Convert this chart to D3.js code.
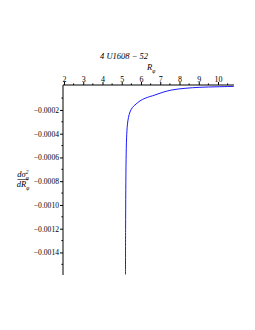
<!DOCTYPE html>
<html>
<head>
<meta charset="utf-8">
<script src="https://cdn.jsdelivr.net/npm/d3@7"></script>
<style>
  body { margin: 0; background: #fff; }
  svg { display: block; }
  text { font-family: "Liberation Serif", "DejaVu Serif", serif; fill: #000; }
</style>
</head>
<body>
<svg id="chart"></svg>
<script>
// values
const title = '4 U1608 \u2212 52';
const xTicks = [2, 3, 4, 5, 6, 7, 8, 9, 10];
const xMinorTicks = [2.5, 3.5, 4.5, 5.5, 6.5, 7.5, 8.5, 9.5, 10.5];
const yTicks = [-0.0002, -0.0004, -0.0006, -0.0008, -0.0010, -0.0012, -0.0014];
const yMinorTicks = [-0.0001, -0.0003, -0.0005, -0.0007, -0.0009, -0.0011, -0.0013, -0.0015];
const curveR = [5.195, 5.2, 5.211, 5.226, 5.252, 5.294, 5.351, 5.429, 5.558, 5.688,
  5.948, 6.207, 6.727, 7.142, 7.594, 8.285, 9.06, 9.946, 10.829];
const curveD = [-0.001586, -0.001208, -0.000872, -0.00062, -0.000435, -0.000326, -0.000263,
  -0.000217, -0.000179, -0.000158, -0.000124, -0.000102, -0.000074, -0.000051, -0.000032,
  -0.000018, -0.0000093, -0.0000051, -0.0000018];

const width = 255;
const height = 330;
const svg = d3.select('#chart').attr('width', width).attr('height', height);

const x = d3.scaleLinear().domain([1.95, 10.83]).range([63, 234]);
const y = d3.scaleLinear().domain([-0.00159, 0.00001]).range([275, 85]);

const fmtY = d => d3.format('.4f')(d).replace('-', '\u2212');

// x axis along the top (y = 0 line), ticks point up
const xAxis = svg.append('g').attr('transform', `translate(0, ${y(0.00001)})`);
xAxis.call(d3.axisTop(x).tickValues(xTicks).tickSize(3).tickPadding(0).tickFormat(d3.format('d')))
  .call(g => g.select('.domain').attr('d', `M${x.range()[0]},0H${x.range()[1]}`));
xAxis.selectAll('text').style('font-size', '8px').attr('font-family', null);
xAxis.append('g').selectAll('line')
  .data(xMinorTicks)
  .enter().append('line')
  .attr('x1', d => x(d)).attr('x2', d => x(d))
  .attr('y1', 0).attr('y2', -1.6)
  .attr('stroke', '#000');

// y axis
const yAxis = svg.append('g').attr('transform', `translate(${x(1.95)}, 0)`);
yAxis.call(d3.axisLeft(y).tickValues(yTicks).tickSize(3).tickPadding(1).tickFormat(fmtY))
  .call(g => g.select('.domain').attr('d', `M0,${y.range()[1]}V${y.range()[0]}`));
yAxis.selectAll('text').style('font-size', '7.6px').attr('font-family', null);
yAxis.append('g').selectAll('line')
  .data(yMinorTicks)
  .enter().append('line')
  .attr('x1', 0).attr('x2', -1.6)
  .attr('y1', d => y(d)).attr('y2', d => y(d))
  .attr('stroke', '#000');

// curve
const line = d3.line()
  .x((d, i) => x(curveR[i]))
  .y(d => y(d))
  .curve(d3.curveCatmullRom.alpha(0.5));

svg.append('path')
  .datum(curveD)
  .attr('d', line)
  .attr('fill', 'none')
  .attr('stroke', '#1a1aff')
  .attr('stroke-width', 1);

// title and axis labels
svg.append('text')
  .attr('x', 124)
  .attr('y', 59)
  .attr('text-anchor', 'middle')
  .attr('font-style', 'italic')
  .attr('font-size', 8.5)
  .text(title);

const rLabel = svg.append('text')
  .attr('x', 147)
  .attr('y', 70)
  .attr('font-style', 'italic')
  .attr('font-size', 8.5);
rLabel.append('tspan').text('R');
rLabel.append('tspan').attr('dy', 2.5).attr('font-size', 5.5).text('\u03c6');

const yl = svg.append('g').attr('transform', 'translate(23, 0)');
const num = yl.append('text')
  .attr('y', 177)
  .attr('text-anchor', 'middle')
  .attr('font-style', 'italic')
  .attr('font-size', 8.5);
num.append('tspan').text('d\u03c3');
num.append('tspan').attr('dy', -3).attr('font-size', 5.5).text('2');
num.append('tspan').attr('dx', -2.8).attr('dy', 5.5).attr('font-size', 5.5).text('\u03c6');
yl.append('line')
  .attr('x1', -5.5).attr('x2', 5.5)
  .attr('y1', 179.5).attr('y2', 179.5)
  .attr('stroke', '#000')
  .attr('stroke-width', 0.6);
const den = yl.append('text')
  .attr('y', 187)
  .attr('text-anchor', 'middle')
  .attr('font-style', 'italic')
  .attr('font-size', 8.5);
den.append('tspan').text('dR');
den.append('tspan').attr('dy', 2.5).attr('font-size', 5.5).text('\u03c6');
</script>
</body>
</html>
